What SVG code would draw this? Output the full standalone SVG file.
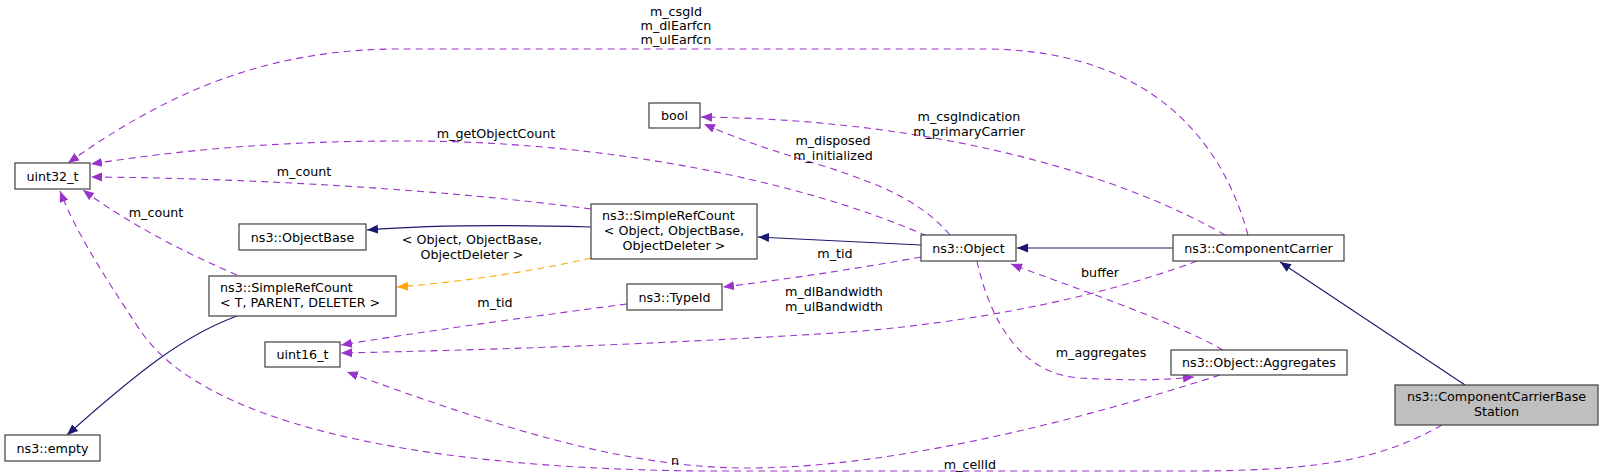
<svg xmlns="http://www.w3.org/2000/svg" width="1608" height="474" viewBox="0 0 1608 474">
<defs>
<style>
text{font-family:"DejaVu Sans",sans-serif;font-size:12.7px;fill:#000;text-anchor:middle}
.n rect{fill:#fff;stroke:#404040;stroke-width:1.2}
.hl rect{fill:#bfbfbf}
.e{fill:none;stroke:#9a32cd;stroke-dasharray:7,5;stroke-width:1.1}
.s{fill:none;stroke:#191970;stroke-width:1.1}
.o{fill:none;stroke:#ffa500;stroke-dasharray:7,5;stroke-width:1.1}
</style>
<marker id="ap" markerUnits="userSpaceOnUse" markerWidth="12" markerHeight="10" refX="11" refY="4.5" orient="auto"><path d="M0,0 L11,4.5 L0,9 z" fill="#9a32cd"/></marker>
<marker id="as" markerUnits="userSpaceOnUse" markerWidth="12" markerHeight="10" refX="11" refY="4.5" orient="auto"><path d="M0,0 L11,4.5 L0,9 z" fill="#191970"/></marker>
<marker id="ao" markerUnits="userSpaceOnUse" markerWidth="12" markerHeight="10" refX="11" refY="4.5" orient="auto"><path d="M0,0 L11,4.5 L0,9 z" fill="#ffa500"/></marker>
</defs>
<rect width="1608" height="474" fill="#fff"/>
<g id="edges">
<path class="s" marker-end="url(#as)" d="M1465,385 L1280,262"/>
<path class="s" marker-end="url(#as)" d="M1173,248 L1017,248"/>
<path class="s" marker-end="url(#as)" d="M921,245 L758,237"/>
<path class="s" marker-end="url(#as)" d="M591,227 C520,225 430,225 367,230"/>
<path class="o" marker-end="url(#ao)" d="M591,258 C530,272 460,282 397,287"/>
<text x="472" y="244">&lt; Object, ObjectBase,</text>
<text x="472" y="259">ObjectDeleter &gt;</text>
<path class="s" marker-end="url(#as)" d="M237,316 C185,335 140,370 67,435"/>
<path class="e" marker-end="url(#ap)" d="M237,275 C190,255 130,225 83,190"/>
<text x="156" y="217">m_count</text>
<path class="e" marker-end="url(#ap)" d="M591,209 C450,190 250,178 91,177"/>
<text x="304" y="176">m_count</text>
<path class="e" marker-end="url(#ap)" d="M927,236 C800,180 600,140 400,141 C250,141 150,155 91,164"/>
<text x="496" y="138">m_getObjectCount</text>
<path class="e" marker-end="url(#ap)" d="M1248,235 C1225,150 1160,52 990,49 L400,49 C270,49 170,90 68,163"/>
<text x="676" y="16">m_csgId</text>
<text x="676" y="30">m_dlEarfcn</text>
<text x="676" y="44">m_ulEarfcn</text>
<path class="e" marker-end="url(#ap)" d="M1225,235 C1130,180 950,120 701,117"/>
<text x="969" y="121">m_csgIndication</text>
<text x="969" y="136">m_primaryCarrier</text>
<path class="e" marker-end="url(#ap)" d="M950,235 C920,200 880,185 830,168 C770,150 740,140 704,124"/>
<text x="833" y="145">m_disposed</text>
<text x="833" y="160">m_initialized</text>
<path class="e" marker-end="url(#ap)" d="M921,257 C850,270 780,280 723,287"/>
<text x="835" y="258">m_tid</text>
<path class="e" marker-end="url(#ap)" d="M627,304 C520,318 420,332 341,345"/>
<text x="495" y="307">m_tid</text>
<path class="e" marker-end="url(#ap)" d="M1197,261 C1120,290 1000,320 850,332 C650,345 480,350 341,353"/>
<text x="834" y="296">m_dlBandwidth</text>
<text x="834" y="311">m_ulBandwidth</text>
<path class="e" marker-end="url(#ap)" d="M1223,350 C1170,320 1080,290 1011,264"/>
<text x="1100" y="277">buffer</text>
<path class="e" marker-end="url(#ap)" d="M977,261 C990,320 1020,374 1080,378 C1130,381 1165,380 1194,377"/>
<text x="1101" y="357">m_aggregates</text>
<path class="e" marker-end="url(#ap)" d="M1220,375 C1080,420 900,466 756,468 C620,470 480,420 347,372"/>
<text x="675" y="465">n</text>
<path class="e" marker-end="url(#ap)" d="M1442,425 C1380,460 1320,470 1200,471 L700,471 C400,468 200,420 140,330 C100,270 75,230 60,191"/>
<text x="970" y="469">m_cellId</text>
</g>
<g id="uint32_t" class="n"><rect x="15" y="163" width="75" height="26"/><text x="52.5" y="181">uint32_t</text></g>
<g id="ObjectBase" class="n"><rect x="239" y="224" width="127" height="26"/><text x="302.5" y="242">ns3::ObjectBase</text></g>
<g id="SimpleRefCountT" class="n"><rect x="209" y="276" width="187" height="40"/><text x="220" y="292" style="text-anchor:start">ns3::SimpleRefCount</text><text x="220" y="307" style="text-anchor:start">&lt; T, PARENT, DELETER &gt;</text></g>
<g id="uint16_t" class="n"><rect x="265" y="342" width="75" height="25"/><text x="302.5" y="359">uint16_t</text></g>
<g id="empty" class="n"><rect x="5" y="435" width="95" height="26"/><text x="52.5" y="453">ns3::empty</text></g>
<g id="bool" class="n"><rect x="649" y="103" width="51" height="25"/><text x="674.5" y="120">bool</text></g>
<g id="SimpleRefCountObject" class="n"><rect x="591" y="204" width="166" height="55"/><text x="602" y="220" style="text-anchor:start">ns3::SimpleRefCount</text><text x="674" y="235">&lt; Object, ObjectBase,</text><text x="674" y="250">ObjectDeleter &gt;</text></g>
<g id="TypeId" class="n"><rect x="627" y="284" width="95" height="26"/><text x="674.5" y="302">ns3::TypeId</text></g>
<g id="Object" class="n"><rect x="921" y="235" width="95" height="26"/><text x="968.5" y="253">ns3::Object</text></g>
<g id="ComponentCarrier" class="n"><rect x="1173" y="235" width="171" height="26"/><text x="1258.5" y="253">ns3::ComponentCarrier</text></g>
<g id="Aggregates" class="n"><rect x="1171" y="350" width="176" height="25"/><text x="1259" y="367">ns3::Object::Aggregates</text></g>
<g id="BaseStation" class="n hl"><rect x="1395" y="385" width="203" height="40"/><text x="1496.5" y="401">ns3::ComponentCarrierBase</text><text x="1496.5" y="416">Station</text></g>
</svg>
